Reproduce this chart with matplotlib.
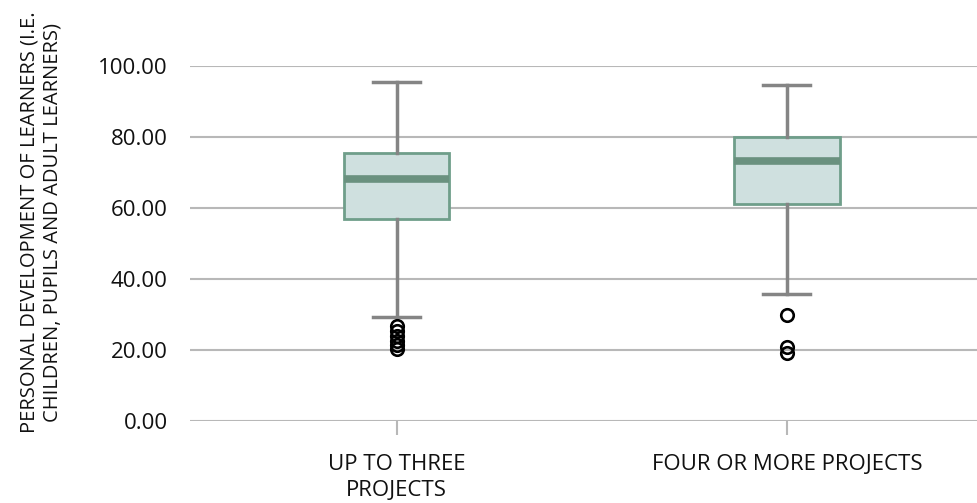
import matplotlib
matplotlib.use('Agg')
import matplotlib.pyplot as plt

plt.rcParams['font.family'] = ['Open Sans', 'DejaVu Sans']

categories = ['UP TO THREE\nPROJECTS', 'FOUR OR MORE PROJECTS']
medians = [68.3, 73.2]
q1 = [57.0, 61.0]
q3 = [75.6, 80.0]
whisker_low = [29.3, 35.8]
whisker_high = [95.5, 94.6]
outliers = [[26.8, 25.4, 23.9, 22.5, 21.4, 20.3], [29.9, 20.8, 19.2]]

yticks = [0, 20, 40, 60, 80, 100]
ylabel = 'PERSONAL DEVELOPMENT OF LEARNERS (I.E.\nCHILDREN, PUPILS AND ADULT LEARNERS)'

box_face = '#cfe0df'
box_edge = '#6f9e8a'
median_c = '#6a917f'
whisker_c = '#858585'
grid_c = '#b8b8b8'
text_c = '#111111'

fig = plt.figure(figsize=(9.78, 5.03), dpi=100)
W, H = 978, 503
ax = fig.add_axes([190 / W, 1 - 421 / H, (978 - 190) / W, (421 - 66) / H])

stats = []
for i in range(len(categories)):
    stats.append({'med': medians[i], 'q1': q1[i], 'q3': q3[i],
                  'whislo': whisker_low[i], 'whishi': whisker_high[i],
                  'fliers': outliers[i]})

ax.bxp(stats, positions=[1, 2], widths=0.27, capwidths=0.12,
       patch_artist=True, showfliers=True,
       boxprops=dict(facecolor=box_face, edgecolor=box_edge, linewidth=2),
       medianprops=dict(color=median_c, linewidth=5.5, solid_capstyle='butt'),
       whiskerprops=dict(color=whisker_c, linewidth=2.5),
       capprops=dict(color=whisker_c, linewidth=2.5),
       flierprops=dict(marker='o', markersize=9, markerfacecolor='none',
                       markeredgecolor='black', markeredgewidth=1.9),
       zorder=3)

ax.set_xlim(0.47, 2.49)
ax.set_ylim(0, 100)
ax.set_yticks(yticks)
ax.set_yticklabels(['%.2f' % v for v in yticks], fontsize=16, color=text_c)
ax.set_xticks([1, 2])
ax.set_xticklabels(categories, fontsize=16, color=text_c, linespacing=1.3)
ax.tick_params(axis='y', length=0, pad=16)
ax.tick_params(axis='x', length=10, width=1.5, color=grid_c, pad=14)
ax.yaxis.grid(True, color=grid_c, linewidth=1.5)
ax.set_axisbelow(True)
for s in ax.spines.values():
    s.set_visible(False)

fig.text(41 / W, 1 - 222 / H, ylabel, rotation=90, ha='center', va='center',
         fontsize=14.5, color=text_c, multialignment='center', linespacing=1.25)

fig.savefig('out.png', dpi=100)
